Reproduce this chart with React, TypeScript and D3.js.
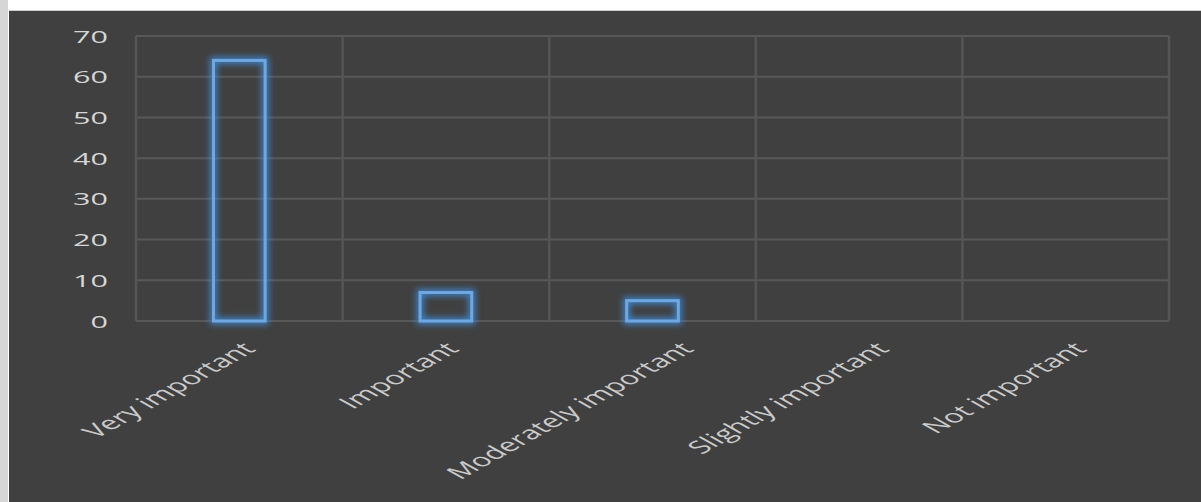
import React from "react";
import * as d3 from "d3";

const categories = ["Very important", "Important", "Moderately important", "Slightly important", "Not important"];
const values = [64, 7, 5, 0, 0];
const yTicks = [0, 10, 20, 30, 40, 50, 60, 70];
// small per-label horizontal nudges (layout only)
const labelNudge = [-2, -5, 23, 12, 3];

const W = 1201;
const H = 502;
const plot = { left: 136, right: 1169, top: 36, bottom: 321 };
const SX = 1.8; // horizontal text stretch

export default function App() {
  const x = d3
    .scaleBand<string>()
    .domain(categories)
    .range([plot.left, plot.right])
    .paddingInner(0.75)
    .paddingOuter(0.375);
  const step = x.step();
  const y = d3.scaleLinear().domain([0, 70]).range([plot.bottom, plot.top]);
  const bounds = d3.range(categories.length + 1).map((i) => plot.left + i * step);

  return (
    <svg
      width={W}
      height={H}
      style={{ position: "absolute", left: 0, top: 0, display: "block" }}
      fontFamily="'Open Sans', sans-serif"
    >
      <defs>
        <filter id="glow" x="-50%" y="-50%" width="200%" height="200%">
          <feGaussianBlur stdDeviation="3" />
        </filter>
      </defs>
      <rect x={0} y={0} width={W} height={H} fill="#ffffff" />
      <rect x={0} y={0} width={8} height={H} fill="#d6d6d6" />
      <rect x={9} y={10} width={W - 9} height={2} fill="#cfcfcf" />
      <rect x={9} y={11} width={W - 9} height={H - 11} fill="#404040" />

      {/* gridlines */}
      {yTicks.map((t) => (
        <line
          key={"h" + t}
          x1={plot.left}
          x2={plot.right}
          y1={y(t)}
          y2={y(t)}
          stroke="#585858"
          strokeWidth={2}
        />
      ))}
      {bounds.map((bx, i) => (
        <line
          key={"v" + i}
          x1={bx}
          x2={bx}
          y1={plot.top}
          y2={plot.bottom}
          stroke="#555555"
          strokeWidth={2.5}
        />
      ))}

      {/* bars */}
      {categories.map((c, i) =>
        values[i] > 0 ? (
          <g key={c}>
            <rect
              x={x(c)!}
              y={y(values[i])}
              width={x.bandwidth()}
              height={y(0) - y(values[i])}
              fill="none"
              stroke="#3f8ddb"
              strokeWidth={7}
              opacity={0.85}
              filter="url(#glow)"
            />
            <rect
              x={x(c)!}
              y={y(values[i])}
              width={x.bandwidth()}
              height={y(0) - y(values[i])}
              fill="none"
              stroke="#6fa8e0"
              strokeWidth={3}
            />
          </g>
        ) : null
      )}

      {/* y labels */}
      {yTicks.map((t) => (
        <text
          key={"yl" + t}
          transform={`translate(108,${y(t)}) scale(${SX},1)`}
          textAnchor="end"
          dominantBaseline="central"
          fontSize={17}
          fill="#d6d6d6"
        >
          {t}
        </text>
      ))}

      {/* x labels */}
      {categories.map((c, i) => (
        <text
          key={"xl" + c}
          transform={`translate(${x(c)! + x.bandwidth() / 2 + labelNudge[i]},339) scale(${SX},1) rotate(-45)`}
          textAnchor="end"
          dominantBaseline="hanging"
          fontSize={18}
          fill="#cacaca"
        >
          {c}
        </text>
      ))}
    </svg>
  );
}
